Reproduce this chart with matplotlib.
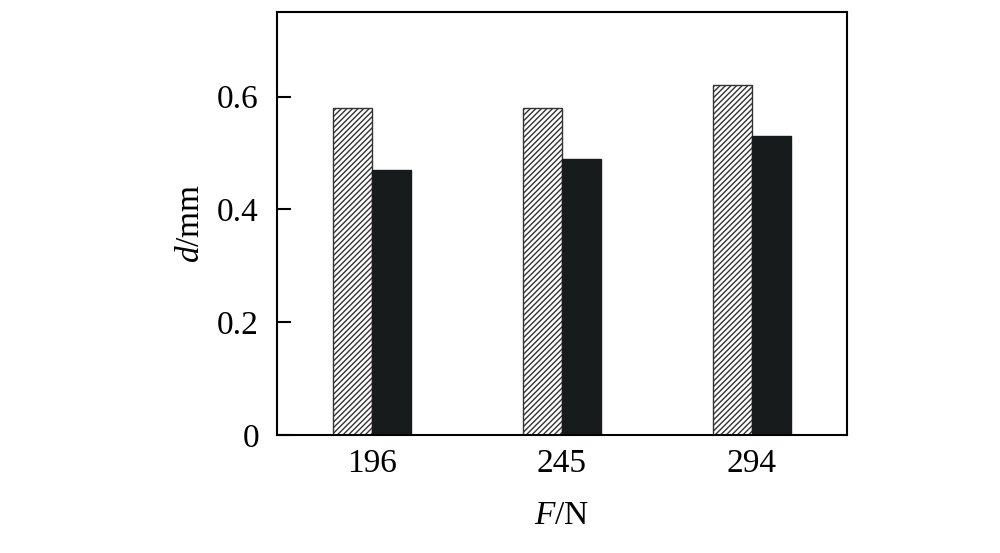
import matplotlib
matplotlib.use("Agg")
import matplotlib.pyplot as plt
import numpy as np

plt.rcParams['font.family'] = ['Liberation Serif', 'DejaVu Serif']
plt.rcParams['mathtext.fontset'] = 'custom'
plt.rcParams['mathtext.it'] = 'Liberation Serif:italic'
plt.rcParams['mathtext.rm'] = 'Liberation Serif'
plt.rcParams['hatch.linewidth'] = 1.0
plt.rcParams['hatch.color'] = '#333333'

categories = ['196', '245', '294']
series_hatched = [0.58, 0.58, 0.62]
series_black = [0.47, 0.49, 0.53]
yticks = [0, 0.2, 0.4, 0.6]
ytick_labels = ['0', '0.2', '0.4', '0.6']

fig = plt.figure(figsize=(10, 5.53), dpi=100)
ax = fig.add_axes([0.277, 0.2134, 0.570, 0.7648])

x = np.arange(len(categories))
w = 0.205
ax.bar(x - w/2, series_hatched, w, facecolor='white', edgecolor='#333333',
       hatch='//////', linewidth=1.0)
ax.bar(x + w/2, series_black, w, facecolor='#181b1b', edgecolor='#181b1b', linewidth=1.0)

ax.set_xlim(-0.5, 2.5)
ax.set_ylim(0, 0.75)
ax.set_xticks(x)
ax.set_xticklabels(categories)
ax.set_yticks(yticks)
ax.set_yticklabels(ytick_labels)
ax.tick_params(axis='y', direction='in', length=10, width=1.5, labelsize=24, pad=13)
ax.tick_params(axis='x', length=0, labelsize=24, pad=10)
for s in ax.spines.values():
    s.set_linewidth(1.5)

ax.set_xlabel(r'$\mathit{F}$/N', fontsize=24, labelpad=15)
ax.set_ylabel(r'$\mathit{d}$/mm', fontsize=24, labelpad=8)

fig.savefig('out.png', dpi=100)
